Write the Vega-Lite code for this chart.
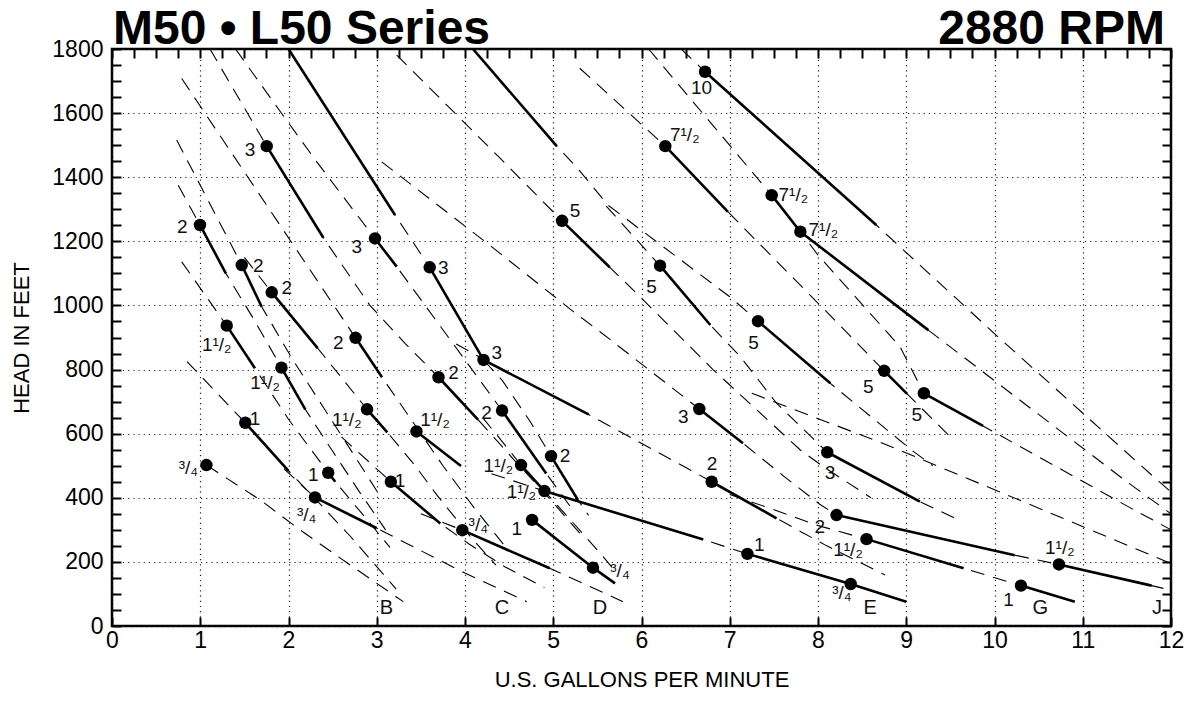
{
"$schema":"https://vega.github.io/schema/vega-lite/v6.json",
"width":1059,"height":577,
"autosize":{"type":"none"},
"padding":{"left":112,"top":49,"right":20,"bottom":91},
"background":"white",
"config":{"view":{"stroke":"black","strokeWidth":2.5},"font":"Liberation Sans",
"axis":{"domain":false,"labelColor":"black","titleColor":"black","labelFont":"Liberation Sans","titleFont":"Liberation Sans","tickOpacity":1}},
"datasets":{
"dashed":[
{"c":"K1","i":1,"x":1.07,"y":502},{"c":"K1","i":2,"x":1.68,"y":393},{"c":"K1","i":3,"x":2.13,"y":300},{"c":"K1","i":4,"x":2.7,"y":190},{"c":"K1","i":5,"x":3.0,"y":133},{"c":"K1","i":6,"x":3.3,"y":76},
{"c":"K2","i":1,"x":0.85,"y":825},{"c":"K2","i":2,"x":1.51,"y":634},{"c":"K2","i":3,"x":2.0,"y":484},{"c":"K2","i":4,"x":2.36,"y":380},{"c":"K2","i":5,"x":2.7,"y":280},{"c":"K2","i":6,"x":3.0,"y":185},{"c":"K2","i":7,"x":3.22,"y":115},
{"c":"K3","i":1,"x":0.79,"y":1136},{"c":"K3","i":2,"x":1.3,"y":937},{"c":"K3","i":3,"x":1.62,"y":804},{"c":"K3","i":4,"x":2.0,"y":645},{"c":"K3","i":5,"x":2.45,"y":478},{"c":"K3","i":6,"x":2.53,"y":450},{"c":"K3","i":7,"x":2.85,"y":345},{"c":"K3","i":8,"x":3.15,"y":245},
{"c":"K4","i":1,"x":0.75,"y":1375},{"c":"K4","i":2,"x":0.997,"y":1251},{"c":"K4","i":3,"x":1.29,"y":1100},{"c":"K4","i":4,"x":1.6,"y":960},{"c":"K4","i":5,"x":1.92,"y":806},{"c":"K4","i":6,"x":2.19,"y":676},{"c":"K4","i":7,"x":2.5,"y":545},{"c":"K4","i":8,"x":2.8,"y":420},{"c":"K4","i":9,"x":3.1,"y":300},
{"c":"K5","i":1,"x":0.733,"y":1516},{"c":"K5","i":2,"x":1.47,"y":1126},{"c":"K5","i":3,"x":1.696,"y":996},{"c":"K5","i":4,"x":2.05,"y":830},{"c":"K5","i":5,"x":2.4,"y":680},{"c":"K5","i":6,"x":2.75,"y":530},{"c":"K5","i":7,"x":3.05,"y":400},
{"c":"K6","i":1,"x":1.5,"y":1150},{"c":"K6","i":2,"x":1.81,"y":1041},{"c":"K6","i":3,"x":2.33,"y":867},{"c":"K6","i":4,"x":2.89,"y":676},{"c":"K6","i":5,"x":3.12,"y":604},{"c":"K6","i":6,"x":3.43,"y":502},{"c":"K6","i":7,"x":3.68,"y":409},{"c":"K6","i":8,"x":4.06,"y":279},{"c":"K6","i":9,"x":4.35,"y":190},
{"c":"K7","i":1,"x":0.79,"y":1708},{"c":"K7","i":2,"x":2.76,"y":899},{"c":"K7","i":3,"x":3.06,"y":776},{"c":"K7","i":4,"x":3.4,"y":640},{"c":"K7","i":5,"x":3.75,"y":500},{"c":"K7","i":6,"x":4.1,"y":370},{"c":"K7","i":7,"x":4.45,"y":250},
{"c":"K8","i":1,"x":1.11,"y":1800},{"c":"K8","i":2,"x":1.753,"y":1497},{"c":"K8","i":3,"x":2.395,"y":1211},{"c":"K8","i":4,"x":2.92,"y":1001},{"c":"K8","i":5,"x":3.32,"y":882},{"c":"K8","i":6,"x":3.7,"y":776},{"c":"K8","i":7,"x":4.15,"y":643},{"c":"K8","i":8,"x":4.55,"y":520},{"c":"K8","i":9,"x":4.95,"y":400},{"c":"K8","i":10,"x":5.3,"y":290},
{"c":"K9","i":1,"x":1.4,"y":1800},{"c":"K9","i":2,"x":1.88,"y":1615},{"c":"K9","i":3,"x":2.32,"y":1448},{"c":"K9","i":4,"x":2.75,"y":1292},{"c":"K9","i":5,"x":2.98,"y":1209},{"c":"K9","i":6,"x":3.226,"y":1121},{"c":"K9","i":7,"x":4.42,"y":672},{"c":"K9","i":8,"x":4.92,"y":476},{"c":"K9","i":9,"x":5.2,"y":370},
{"c":"K10","i":1,"x":2.0,"y":1800},{"c":"K10","i":2,"x":3.207,"y":1282},{"c":"K10","i":3,"x":3.6,"y":1119},{"c":"K10","i":4,"x":4.21,"y":830},{"c":"K10","i":5,"x":4.42,"y":767},{"c":"K10","i":6,"x":4.74,"y":637},{"c":"K10","i":7,"x":4.975,"y":530},{"c":"K10","i":8,"x":5.28,"y":393},{"c":"K10","i":9,"x":5.4,"y":345},
{"c":"K11","i":1,"x":3.9,"y":880},{"c":"K11","i":2,"x":4.21,"y":832},{"c":"K11","i":3,"x":5.4,"y":660},{"c":"K11","i":4,"x":6.795,"y":450},{"c":"K11","i":5,"x":7.53,"y":336},{"c":"K11","i":6,"x":8.1,"y":250},{"c":"K11","i":7,"x":8.76,"y":159},
{"c":"K12a","i":1,"x":4.2,"y":650},{"c":"K12a","i":2,"x":4.47,"y":559},{"c":"K12a","i":3,"x":4.635,"y":502},{"c":"K12a","i":4,"x":4.9,"y":421},{"c":"K12a","i":5,"x":5.15,"y":345},{"c":"K12a","i":6,"x":5.55,"y":221},{"c":"K12a","i":7,"x":5.72,"y":165},
{"c":"K12b","i":1,"x":4.3,"y":475},{"c":"K12b","i":2,"x":4.9,"y":421},{"c":"K12b","i":3,"x":6.7,"y":270},{"c":"K12b","i":4,"x":7.2,"y":225},{"c":"K12b","i":5,"x":8.37,"y":131},{"c":"K12b","i":6,"x":9.0,"y":76},
{"c":"K13","i":1,"x":2.6,"y":590},{"c":"K13","i":2,"x":3.16,"y":450},{"c":"K13","i":3,"x":3.72,"y":320},{"c":"K13","i":4,"x":4.05,"y":255},{"c":"K13","i":5,"x":4.45,"y":185},{"c":"K13","i":6,"x":4.9,"y":120},
{"c":"K14","i":1,"x":3.5,"y":350},{"c":"K14","i":2,"x":3.97,"y":299},{"c":"K14","i":3,"x":4.96,"y":180},{"c":"K14","i":4,"x":5.79,"y":76},
{"c":"Ca","i":1,"x":1.95,"y":490},{"c":"Ca","i":2,"x":2.3,"y":401},{"c":"Ca","i":3,"x":3.0,"y":305},{"c":"Ca","i":4,"x":3.5,"y":235},{"c":"Ca","i":5,"x":4.0,"y":165},{"c":"Ca","i":6,"x":4.7,"y":76},
{"c":"K15","i":1,"x":3.226,"y":1781},{"c":"K15","i":2,"x":4.38,"y":1464},{"c":"K15","i":3,"x":5.1,"y":1264},{"c":"K15","i":4,"x":5.64,"y":1119},{"c":"K15","i":5,"x":5.87,"y":1058},{"c":"K15","i":6,"x":6.81,"y":800},{"c":"K15","i":7,"x":7.8,"y":549},{"c":"K15","i":8,"x":8.06,"y":497},{"c":"K15","i":9,"x":8.6,"y":400},
{"c":"R1","i":1,"x":6.45,"y":1800},{"c":"R1","i":2,"x":6.72,"y":1729},{"c":"R1","i":3,"x":8.66,"y":1251},{"c":"R1","i":4,"x":10.04,"y":902},{"c":"R1","i":5,"x":11.8,"y":466},{"c":"R1","i":6,"x":12.0,"y":418},
{"c":"R2","i":1,"x":5.3,"y":1740},{"c":"R2","i":2,"x":6.27,"y":1497},{"c":"R2","i":3,"x":6.98,"y":1292},{"c":"R2","i":4,"x":8.23,"y":943},{"c":"R2","i":5,"x":8.75,"y":796},{"c":"R2","i":6,"x":9.01,"y":724},{"c":"R2","i":7,"x":9.5,"y":590},
{"c":"R3a","i":1,"x":6.08,"y":1800},{"c":"R3a","i":2,"x":7.475,"y":1344},{"c":"R3a","i":3,"x":7.8,"y":1230},{"c":"R3a","i":4,"x":8.0,"y":1157},{"c":"R3a","i":5,"x":8.93,"y":871},{"c":"R3a","i":6,"x":9.2,"y":726},{"c":"R3a","i":7,"x":9.87,"y":624},{"c":"R3a","i":8,"x":11.55,"y":367},{"c":"R3a","i":9,"x":12.0,"y":300},
{"c":"R3b","i":1,"x":7.8,"y":1230},{"c":"R3b","i":2,"x":9.25,"y":923},{"c":"R3b","i":3,"x":10.5,"y":660},{"c":"R3b","i":4,"x":11.5,"y":450},{"c":"R3b","i":5,"x":12.0,"y":350},
{"c":"R4","i":1,"x":5.6,"y":1310},{"c":"R4","i":2,"x":6.21,"y":1124},{"c":"R4","i":3,"x":6.78,"y":939},{"c":"R4","i":4,"x":7.12,"y":840},{"c":"R4","i":5,"x":7.53,"y":695},{"c":"R4","i":6,"x":8.105,"y":542},{"c":"R4","i":7,"x":9.155,"y":388},{"c":"R4","i":8,"x":9.6,"y":330},
{"c":"R5","i":1,"x":4.09,"y":1800},{"c":"R5","i":2,"x":5.04,"y":1497},{"c":"R5","i":3,"x":5.3,"y":1420},{"c":"R5","i":4,"x":5.62,"y":1313},{"c":"R5","i":5,"x":7.0,"y":1027},{"c":"R5","i":6,"x":7.32,"y":951},{"c":"R5","i":7,"x":8.14,"y":757},{"c":"R5","i":8,"x":9.06,"y":549},{"c":"R5","i":9,"x":9.3,"y":500},
{"c":"R6","i":1,"x":3.056,"y":1448},{"c":"R6","i":2,"x":4.28,"y":1188},{"c":"R6","i":3,"x":5.25,"y":976},{"c":"R6","i":4,"x":5.53,"y":918},{"c":"R6","i":5,"x":6.655,"y":677},{"c":"R6","i":6,"x":7.15,"y":570},{"c":"R6","i":7,"x":7.6,"y":470},{"c":"R6","i":8,"x":8.02,"y":380},{"c":"R6","i":9,"x":8.21,"y":346},{"c":"R6","i":10,"x":10.23,"y":221},{"c":"R6","i":11,"x":10.73,"y":192},{"c":"R6","i":12,"x":11.78,"y":126},{"c":"R6","i":13,"x":12.0,"y":112},
{"c":"R7","i":1,"x":7.0,"y":410},{"c":"R7","i":2,"x":7.51,"y":362},{"c":"R7","i":3,"x":7.98,"y":315},{"c":"R7","i":4,"x":8.55,"y":271},{"c":"R7","i":5,"x":9.65,"y":180},{"c":"R7","i":6,"x":10.3,"y":126},{"c":"R7","i":7,"x":10.91,"y":76},
{"c":"R9","i":1,"x":7.25,"y":726},{"c":"R9","i":2,"x":8.78,"y":565},{"c":"R9","i":3,"x":10.55,"y":362},{"c":"R9","i":4,"x":12.0,"y":195}
],
"solid":[
{"s":1,"i":1,"x":2.0,"y":1800},{"s":1,"i":2,"x":3.207,"y":1282},
{"s":2,"i":1,"x":1.753,"y":1497},{"s":2,"i":2,"x":2.395,"y":1211},
{"s":3,"i":1,"x":2.98,"y":1209},{"s":3,"i":2,"x":3.226,"y":1121},
{"s":4,"i":1,"x":3.6,"y":1119},{"s":4,"i":2,"x":4.21,"y":830},
{"s":5,"i":1,"x":0.997,"y":1251},{"s":5,"i":2,"x":1.29,"y":1100},
{"s":6,"i":1,"x":1.47,"y":1126},{"s":6,"i":2,"x":1.696,"y":996},
{"s":7,"i":1,"x":1.81,"y":1041},{"s":7,"i":2,"x":2.33,"y":867},
{"s":8,"i":1,"x":1.3,"y":937},{"s":8,"i":2,"x":1.62,"y":804},
{"s":9,"i":1,"x":1.92,"y":806},{"s":9,"i":2,"x":2.19,"y":676},
{"s":10,"i":1,"x":2.76,"y":899},{"s":10,"i":2,"x":3.06,"y":776},
{"s":11,"i":1,"x":2.89,"y":676},{"s":11,"i":2,"x":3.12,"y":604},
{"s":12,"i":1,"x":3.7,"y":776},{"s":12,"i":2,"x":4.15,"y":643},
{"s":13,"i":1,"x":3.45,"y":607},{"s":13,"i":2,"x":3.955,"y":499},
{"s":14,"i":1,"x":1.51,"y":634},{"s":14,"i":2,"x":2.0,"y":484},
{"s":15,"i":1,"x":2.45,"y":478},{"s":15,"i":2,"x":2.53,"y":450},
{"s":16,"i":1,"x":2.3,"y":401},{"s":16,"i":2,"x":3.0,"y":305},
{"s":17,"i":1,"x":3.16,"y":450},{"s":17,"i":2,"x":3.72,"y":320},
{"s":18,"i":1,"x":3.97,"y":299},{"s":18,"i":2,"x":4.96,"y":180},
{"s":19,"i":1,"x":4.21,"y":830},{"s":19,"i":2,"x":5.4,"y":660},
{"s":20,"i":1,"x":4.42,"y":672},{"s":20,"i":2,"x":4.92,"y":476},
{"s":21,"i":1,"x":4.975,"y":530},{"s":21,"i":2,"x":5.28,"y":393},
{"s":22,"i":1,"x":4.635,"y":502},{"s":22,"i":2,"x":4.9,"y":421},
{"s":23,"i":1,"x":4.9,"y":421},{"s":23,"i":2,"x":6.7,"y":270},
{"s":24,"i":1,"x":4.76,"y":331},{"s":24,"i":2,"x":5.45,"y":182},{"s":24,"i":3,"x":5.7,"y":133},
{"s":25,"i":1,"x":5.1,"y":1264},{"s":25,"i":2,"x":5.64,"y":1119},
{"s":26,"i":1,"x":4.09,"y":1800},{"s":26,"i":2,"x":5.04,"y":1497},
{"s":27,"i":1,"x":6.27,"y":1497},{"s":27,"i":2,"x":6.98,"y":1292},
{"s":28,"i":1,"x":6.72,"y":1729},{"s":28,"i":2,"x":8.66,"y":1251},
{"s":29,"i":1,"x":7.475,"y":1344},{"s":29,"i":2,"x":7.8,"y":1230},
{"s":30,"i":1,"x":7.8,"y":1230},{"s":30,"i":2,"x":9.25,"y":923},
{"s":31,"i":1,"x":6.21,"y":1124},{"s":31,"i":2,"x":6.78,"y":939},
{"s":32,"i":1,"x":7.32,"y":951},{"s":32,"i":2,"x":8.14,"y":757},
{"s":33,"i":1,"x":6.655,"y":677},{"s":33,"i":2,"x":7.15,"y":570},
{"s":34,"i":1,"x":8.75,"y":796},{"s":34,"i":2,"x":9.01,"y":724},
{"s":35,"i":1,"x":9.2,"y":726},{"s":35,"i":2,"x":9.87,"y":624},
{"s":36,"i":1,"x":8.105,"y":542},{"s":36,"i":2,"x":9.155,"y":388},
{"s":37,"i":1,"x":6.795,"y":450},{"s":37,"i":2,"x":7.53,"y":336},
{"s":38,"i":1,"x":8.21,"y":346},{"s":38,"i":2,"x":10.23,"y":221},
{"s":39,"i":1,"x":8.55,"y":271},{"s":39,"i":2,"x":9.65,"y":180},
{"s":40,"i":1,"x":7.2,"y":225},{"s":40,"i":2,"x":8.37,"y":131},{"s":40,"i":3,"x":9.0,"y":76},
{"s":41,"i":1,"x":10.73,"y":192},{"s":41,"i":2,"x":11.78,"y":126},
{"s":42,"i":1,"x":10.3,"y":126},{"s":42,"i":2,"x":10.91,"y":76}
],
"dots":[
{"x":1.753,"y":1497},{"x":2.98,"y":1209},{"x":3.6,"y":1119},{"x":4.21,"y":830},{"x":0.997,"y":1251},{"x":1.47,"y":1126},{"x":1.81,"y":1041},{"x":1.3,"y":937},{"x":1.92,"y":806},{"x":2.76,"y":899},{"x":2.89,"y":676},{"x":3.7,"y":776},{"x":3.45,"y":607},{"x":1.51,"y":634},{"x":2.45,"y":478},{"x":1.07,"y":502},{"x":2.3,"y":401},{"x":3.16,"y":450},{"x":3.97,"y":299},{"x":4.42,"y":672},{"x":4.975,"y":530},{"x":4.635,"y":502},{"x":4.9,"y":421},{"x":4.76,"y":331},{"x":5.45,"y":182},{"x":5.1,"y":1264},{"x":6.72,"y":1729},{"x":6.27,"y":1497},{"x":7.475,"y":1344},{"x":7.8,"y":1230},{"x":6.21,"y":1124},{"x":7.32,"y":951},{"x":8.75,"y":796},{"x":9.2,"y":726},{"x":6.655,"y":677},{"x":8.105,"y":542},{"x":6.795,"y":450},{"x":8.21,"y":346},{"x":8.55,"y":271},{"x":10.73,"y":192},{"x":7.2,"y":225},{"x":8.37,"y":131},{"x":10.3,"y":126}
],
"labels":[
{"x":1.564,"y":1485,"t":"3"},{"x":0.797,"y":1245,"t":"2"},{"x":1.658,"y":1123,"t":"2"},{"x":1.98,"y":1053,"t":"2"},{"x":2.773,"y":1183,"t":"3"},{"x":3.754,"y":1116,"t":"3"},{"x":4.36,"y":852,"t":"3"},{"x":5.246,"y":1294,"t":"5"},{"x":2.565,"y":882,"t":"2"},{"x":1.186,"y":876,"t":"1¹/₂"},{"x":1.734,"y":757,"t":"1¹/₂"},{"x":2.66,"y":643,"t":"1¹/₂"},{"x":3.66,"y":643,"t":"1¹/₂"},{"x":3.87,"y":790,"t":"2"},{"x":4.245,"y":663,"t":"2"},{"x":5.133,"y":530,"t":"2"},{"x":4.378,"y":499,"t":"1¹/₂"},{"x":4.64,"y":419,"t":"1¹/₂"},{"x":4.586,"y":302,"t":"1"},{"x":5.756,"y":172,"t":"³/₄"},{"x":4.15,"y":315,"t":"³/₄"},{"x":3.263,"y":453,"t":"1"},{"x":1.62,"y":645,"t":"1"},{"x":2.28,"y":471,"t":"1"},{"x":0.865,"y":492,"t":"³/₄"},{"x":2.206,"y":346,"t":"³/₄"},{"x":6.68,"y":1677,"t":"10"},{"x":6.49,"y":1531,"t":"7¹/₂"},{"x":7.72,"y":1344,"t":"7¹/₂"},{"x":8.06,"y":1235,"t":"7¹/₂"},{"x":6.115,"y":1058,"t":"5"},{"x":7.27,"y":882,"t":"5"},{"x":8.57,"y":746,"t":"5"},{"x":9.12,"y":658,"t":"5"},{"x":6.474,"y":653,"t":"3"},{"x":8.136,"y":476,"t":"3"},{"x":6.8,"y":504,"t":"2"},{"x":8.02,"y":310,"t":"2"},{"x":8.34,"y":237,"t":"1¹/₂"},{"x":10.74,"y":242,"t":"1¹/₂"},{"x":7.335,"y":253,"t":"1"},{"x":8.27,"y":102,"t":"³/₄"},{"x":10.16,"y":81,"t":"1"}
],
"letters":[
{"x":3.11,"y":55,"t":"B"},{"x":4.42,"y":55,"t":"C"},{"x":5.53,"y":55,"t":"D"},{"x":8.59,"y":55,"t":"E"},{"x":10.52,"y":55,"t":"G"},{"x":11.84,"y":55,"t":"J"}
],
"heads":[
{"x":0,"y":1800,"t":"M50 • L50 Series"}
],
"heads2":[
{"x":12,"y":1800,"t":"2880 RPM"}
]
},
"layer":[
{"data":{"name":"dashed"},
"mark":{"type":"line","strokeDash":[14,9],"strokeWidth":1.1,"color":"black","clip":true},
"encoding":{
"x":{"field":"x","type":"quantitative","scale":{"domain":[0,12],"nice":false,"zero":false},
"axis":{"orient":"bottom","offset":-9,"values":[0,0.25,0.5,0.75,1,1.25,1.5,1.75,2,2.25,2.5,2.75,3,3.25,3.5,3.75,4,4.25,4.5,4.75,5,5.25,5.5,5.75,6,6.25,6.5,6.75,7,7.25,7.5,7.75,8,8.25,8.5,8.75,9,9.25,9.5,9.75,10,10.25,10.5,10.75,11,11.25,11.5,11.75,12],
"format":"d","labelExpr":"datum.value % 1 === 0 ? datum.label : ''","labelOverlap":false,
"title":"U.S. GALLONS PER MINUTE","grid":true,"gridDash":[1.2,4],"gridColor":"#222","gridWidth":1.2,
"gridOpacity":{"condition":{"test":"datum.value % 1 === 0","value":1},"value":0},
"ticks":true,"tickSize":9,"tickColor":"black","tickWidth":2,"tickOpacity":1,
"labelFontSize":23,"labelPadding":3,"titleFontSize":22,"titleFontWeight":"normal","titlePadding":17,"labelFlush":false}},
"y":{"field":"y","type":"quantitative","scale":{"domain":[0,1800],"nice":false,"zero":false},
"axis":{"orient":"left","offset":-9,"values":[0,50,100,150,200,250,300,350,400,450,500,550,600,650,700,750,800,850,900,950,1000,1050,1100,1150,1200,1250,1300,1350,1400,1450,1500,1550,1600,1650,1700,1750,1800],
"format":"d","labelExpr":"datum.value % 200 === 0 ? datum.label : ''","labelOverlap":false,
"title":"HEAD IN FEET","grid":true,"gridDash":[1.2,4],"gridColor":"#222","gridWidth":1.2,
"gridOpacity":{"condition":{"test":"datum.value % 200 === 0","value":1},"value":0},
"ticks":true,"tickSize":9,"tickColor":"black","tickWidth":2,"tickOpacity":1,
"labelFontSize":23,"labelPadding":9,"titleFontSize":22,"titleFontWeight":"normal","titlePadding":18,"labelFlush":false}},
"detail":{"field":"c"},
"order":{"field":"i"}}},
{"data":{"name":"dots"},
"mark":{"type":"point","filled":true,"size":155,"color":"black","opacity":1},
"encoding":{
"x":{"field":"x","type":"quantitative","axis":{"orient":"top","offset":-9,"values":[0,0.25,0.5,0.75,1,1.25,1.5,1.75,2,2.25,2.5,2.75,3,3.25,3.5,3.75,4,4.25,4.5,4.75,5,5.25,5.5,5.75,6,6.25,6.5,6.75,7,7.25,7.5,7.75,8,8.25,8.5,8.75,9,9.25,9.5,9.75,10,10.25,10.5,10.75,11,11.25,11.5,11.75,12],"labels":false,"grid":false,"ticks":true,"tickSize":9,"tickColor":"black","tickWidth":2,"tickOpacity":1,"title":null}},
"y":{"field":"y","type":"quantitative","axis":{"orient":"right","offset":-9,"values":[0,50,100,150,200,250,300,350,400,450,500,550,600,650,700,750,800,850,900,950,1000,1050,1100,1150,1200,1250,1300,1350,1400,1450,1500,1550,1600,1650,1700,1750,1800],"labels":false,"grid":false,"ticks":true,"tickSize":9,"tickColor":"black","tickWidth":2,"tickOpacity":1,"title":null}}}},
{"data":{"name":"solid"},
"mark":{"type":"line","strokeWidth":2.6,"color":"black","clip":true},
"encoding":{
"x":{"field":"x","type":"quantitative","axis":null},
"y":{"field":"y","type":"quantitative","axis":null},
"detail":{"field":"s"},
"order":{"field":"i"}}},
{"data":{"name":"labels"},
"mark":{"type":"text","fontSize":19,"font":"Liberation Sans","color":"#111","align":"center","baseline":"middle"},
"encoding":{"x":{"field":"x","type":"quantitative","axis":null},"y":{"field":"y","type":"quantitative","axis":null},"text":{"field":"t"}}},
{"data":{"name":"letters"},
"mark":{"type":"text","fontSize":20,"font":"Liberation Sans","color":"#111","align":"center","baseline":"middle"},
"encoding":{"x":{"field":"x","type":"quantitative","axis":null},"y":{"field":"y","type":"quantitative","axis":null},"text":{"field":"t"}}},
{"data":{"name":"heads"},
"mark":{"type":"text","fontSize":48,"fontWeight":"bold","font":"Liberation Sans","color":"black","align":"left","baseline":"alphabetic","dx":1,"dy":-5,"clip":false},
"encoding":{"x":{"field":"x","type":"quantitative","axis":null},"y":{"field":"y","type":"quantitative","axis":null},"text":{"field":"t"}}},
{"data":{"name":"heads2"},
"mark":{"type":"text","fontSize":48,"fontWeight":"bold","font":"Liberation Sans","color":"black","align":"right","baseline":"alphabetic","dx":-6,"dy":-5,"clip":false},
"encoding":{"x":{"field":"x","type":"quantitative","axis":null},"y":{"field":"y","type":"quantitative","axis":null},"text":{"field":"t"}}}
],
"resolve":{"axis":{"x":"independent","y":"independent"}}
}
